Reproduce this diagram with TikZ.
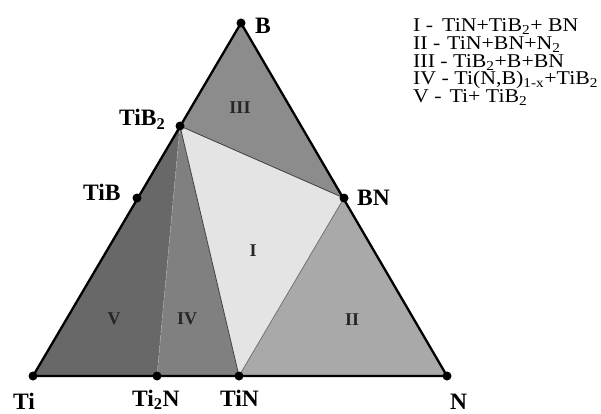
\documentclass[tikz,border=0pt]{standalone}
\usepackage{fontspec}
\setmainfont{Liberation Serif}
\definecolor{cV}{HTML}{686868}
\definecolor{cIV}{HTML}{808080}
\definecolor{cIII}{HTML}{8C8C8C}
\definecolor{cI}{HTML}{E4E4E4}
\definecolor{cII}{HTML}{A9A9A9}
\definecolor{numc}{HTML}{252525}
\newcommand\legline[1]{\scalebox{1.12}[1]{#1}}
\begin{document}
\begin{tikzpicture}[x=1pt,y=-1pt,
  vlabel/.style={anchor=base west,inner sep=0pt,font=\fontsize{23.5}{26}\selectfont\bfseries},
  rlabel/.style={inner sep=0pt,text=numc,font=\fontsize{18}{20}\selectfont\bfseries},
  leg/.style={anchor=base west,inner sep=0pt,align=left,font=\fontsize{19.5}{17.7}\selectfont},
  dot/.style={circle,fill=black,inner sep=0pt,minimum size=9pt},
  outer/.style={line width=2.3pt,black,line join=round},
  inner/.style={line width=0.8pt,black!75},
  innerlight/.style={line width=0.7pt,black!35,densely dashed}]
\useasboundingbox (0,0) rectangle (601,414);
\coordinate (Ti) at (33,376);
\coordinate (N) at (447,376);
\coordinate (B) at (241,23);
\coordinate (TiBtwo) at (180,126);
\coordinate (TiB) at (137,198);
\coordinate (BN) at (344,198);
\coordinate (TiN) at (239,376);
\coordinate (TitwoN) at (157,376);
% regions
\fill[cV] (Ti) -- (TiBtwo) -- (TitwoN) -- cycle;
\fill[cIV] (TiBtwo) -- (TitwoN) -- (TiN) -- cycle;
\fill[cI] (TiBtwo) -- (TiN) -- (BN) -- cycle;
\fill[cIII] (TiBtwo) -- (B) -- (BN) -- cycle;
\fill[cII] (BN) -- (TiN) -- (N) -- cycle;
% inner lines
\draw[innerlight] (TiBtwo) -- (TitwoN);
\draw[inner] (TiBtwo) -- (TiN);
\draw[inner] (TiBtwo) -- (BN);
\draw[inner,black!55] (BN) -- (TiN);
% outer triangle
\draw[outer] (Ti) -- (B) -- (N) -- cycle;
% dots
\foreach \p in {Ti,N,B,TiBtwo,TiB,BN,TiN,TitwoN}
  \node[dot] (d\p) at (\p) {};
% vertex labels
\node[vlabel] (lB) at (255,34) {B};
\node[vlabel] (lTiBtwo) at (119,126) {TiB\textsubscript{2}};
\node[vlabel] (lTiB) at (83,200) {TiB};
\node[vlabel] (lBN) at (357,205) {BN};
\node[vlabel] (lTi) at (13,409) {Ti};
\node[vlabel] (lTitwoN) at (132,406) {Ti\textsubscript{2}N};
\node[vlabel] (lTiN) at (220,406) {TiN};
\node[vlabel] (lN) at (450,409) {N};
% region labels
\node[rlabel] (rIII) at (240,108) {III};
\node[rlabel] (rI) at (253,251) {I};
\node[rlabel] (rII) at (352,320) {II};
\node[rlabel] (rIV) at (187,319) {IV};
\node[rlabel] (rV) at (114,319) {V};
% legend (anchored at the baseline of its last line)
\node[leg] (legend) at (413,102.5) {\legline{I -\hspace{8pt}TiN+TiB\textsubscript{2}+ BN}\\
\legline{II -\hspace{6pt}TiN+BN+N\textsubscript{2}}\\
\legline{III - TiB\textsubscript{2}+B+BN}\\
\legline{IV - Ti(N,B)\textsubscript{1-x}+TiB\textsubscript{2}}\\
\legline{V -\hspace{7pt}Ti+ TiB\textsubscript{2}}};
\end{tikzpicture}
\end{document}
